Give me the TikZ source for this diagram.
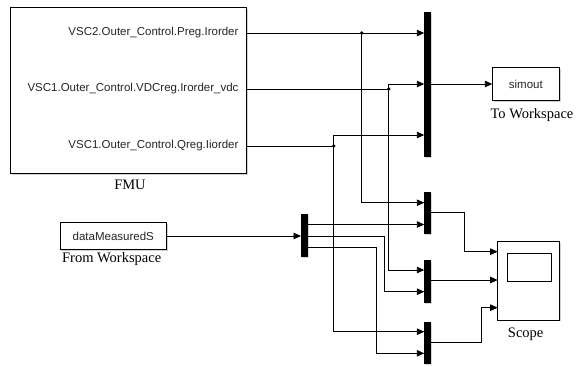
\documentclass[tikz,border=0pt]{standalone}
\usepackage{fontspec}
\setmainfont{Liberation Serif}
\setsansfont{Liberation Sans}
\usetikzlibrary{arrows.meta,shadows}
\begin{document}
\begin{tikzpicture}[x=1pt,y=-1pt,
  wire/.style={line width=0.9pt},
  sig/.style={wire,-{Triangle[length=7.5pt,width=6.5pt]}},
  blk/.style={draw,line width=0.9pt,fill=white,inner sep=0pt,
    drop shadow={shadow xshift=1.5pt,shadow yshift=-1.5pt,fill=black!30,opacity=0.6}},
  muxbar/.style={fill=black,inner sep=0pt,minimum width=6.7pt,
    drop shadow={shadow xshift=1pt,shadow yshift=-1pt,fill=black!30,opacity=0.5}},
  sans/.style={font=\sffamily\fontsize{11.5}{13}\selectfont,text=black!85},
  lbl/.style={font=\fontsize{14.5}{16}\selectfont},
  dot/.style={circle,fill=black,inner sep=0pt,minimum size=3.6pt}]
\useasboundingbox (0,0) rectangle (576,367);

% FMU block
\node[blk,anchor=north west,minimum width=235.7pt,minimum height=166pt] (fmu) at (10,7) {};
\node[lbl] (fmulbl) at (130,185) {FMU};
\node[sans,anchor=east] (t1) at (242,33) {VSC2.Outer\_Control.Preg.Irorder};
\node[sans,anchor=east] (t2) at (242,89) {VSC1.Outer\_Control.VDCreg.Irorder\_vdc};
\node[sans,anchor=east] (t3) at (242,146) {VSC1.Outer\_Control.Qreg.Iiorder};
\coordinate (F1) at (245.7,33);
\coordinate (F2) at (245.7,89);
\coordinate (F3) at (245.7,146);

% muxes
\node[muxbar,minimum height=145pt] (mbig) at (427.7,84.2) {};
\node[muxbar,minimum height=42pt] (ma) at (427.7,213.3) {};
\node[muxbar,minimum height=42.7pt] (mb) at (427.7,281.3) {};
\node[muxbar,minimum height=42.6pt] (mc) at (427.7,343) {};
\node[muxbar,minimum height=43pt] (dm) at (304.3,235.8) {};

% To workspace
\node[blk,sans,minimum width=67pt,minimum height=33pt] (sim) at (525.8,84.2) {simout};
\node[lbl] (simlbl) at (532,115) {To Workspace};

% From workspace
\node[blk,sans,minimum width=106.7pt,minimum height=26.6pt] (fw) at (113.3,236) {dataMeasuredS};
\node[lbl] (fwlbl) at (111.7,259.3) {From Workspace};

% Scope
\node[blk,minimum width=61.6pt,minimum height=78.3pt] (scope) at (528.5,280.8) {};
\node[draw,line width=0.9pt,minimum width=44pt,minimum height=28.3pt,inner sep=0pt,anchor=north west] (screen) at (506.7,252.7) {};
\node[lbl] (scopelbl) at (525.7,334) {Scope};

% junctions
\node[dot] (J1) at (361.7,33) {};
\node[dot] (J2) at (388.7,89) {};
\node[dot] (J3) at (333.7,146) {};

% port coordinates
\coordinate (B1) at (424.3,33);
\coordinate (B2) at (424.3,84);
\coordinate (B3) at (424.3,135);
\coordinate (Bo) at (431,84);
\coordinate (A1) at (424.3,202.7);
\coordinate (A2) at (424.3,224.5);
\coordinate (Ao) at (431,212.7);
\coordinate (C1) at (424.3,270);
\coordinate (C2) at (424.3,291.7);
\coordinate (Co) at (431,280);
\coordinate (D1) at (424.3,331.7);
\coordinate (D2) at (424.3,353.3);
\coordinate (Do) at (431,342.3);
\coordinate (Ei) at (301,236);
\coordinate (E1) at (307.7,224.5);
\coordinate (E2) at (307.7,236.7);
\coordinate (E3) at (307.7,247.7);
\coordinate (S1) at (497.7,251.7);
\coordinate (S2) at (497.7,280);
\coordinate (S3) at (497.7,307.7);
\coordinate (So) at (492.3,84);

% FMU signals
\draw[sig] (F1) -- (B1);
\draw[wire] (F2) -- (J2.center);
\draw[sig] (J2.center) -- (J2.center |- B2) -- (B2);
\draw[wire] (F3) -- (J3.center);
\draw[sig] (J3.center) -- (J3.center |- B3) -- (B3);
\draw[sig] (Bo) -- (So);

% branches
\draw[sig] (J1.center) |- (A1);
\draw[sig] (J2.center) |- (C1);
\draw[sig] (J3.center) |- (D1);

% from workspace
\draw[sig] (fw.east) -- (Ei);
\draw[sig] (E1) -- (A2);
\draw[sig] (E2) -- (384,236.7) |- (C2);
\draw[sig] (E3) -- (376,247.7) |- (D2);

% to scope
\draw[sig] (Ao) -- (464.3,212.7) |- (S1);
\draw[sig] (Co) -- (S2);
\draw[sig] (Do) -- (481,342.3) |- (S3);
\end{tikzpicture}
\end{document}
